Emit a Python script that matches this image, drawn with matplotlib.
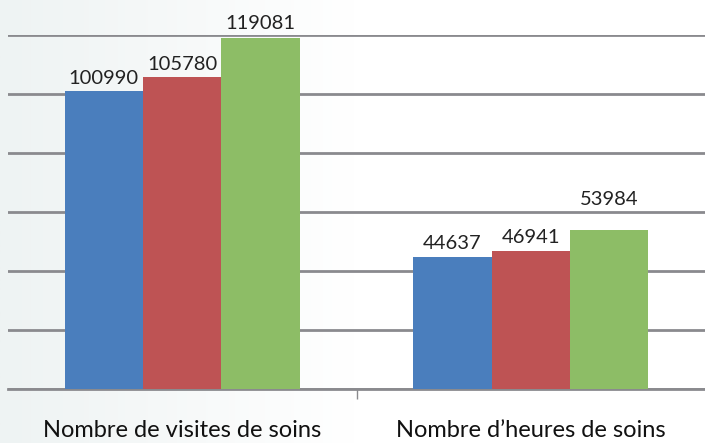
import matplotlib
matplotlib.use("Agg")
from matplotlib import pyplot as plt
from matplotlib.colors import LinearSegmentedColormap
import numpy as np

# Data
categories = ["Nombre de visites de soins", "Nombre d\u2019heures de soins"]
series_a = [100990, 44637]
series_b = [105780, 46941]
series_c = [119081, 53984]

colors = ["#4a7ebd", "#be5354", "#8dbd66"]
label_offsets = [[3, 4], [3, 3], [4, 16]]  # points above each bar

plt.rcParams['font.family'] = ['Lato', 'DejaVu Sans']

fig = plt.figure(figsize=(7.05, 4.43), dpi=100)

# soft background gradient, light at the left edge
bg = fig.add_axes([0, 0, 1, 1], zorder=-10)
grad = np.linspace(0, 1, 256).reshape(1, -1)
cmap = LinearSegmentedColormap.from_list("bg", ["#eef3f3", "#ffffff", "#ffffff"])
bg.imshow(grad, aspect="auto", cmap=cmap, extent=[0, 1, 0, 1])
bg.axis("off")

ax = fig.add_axes([8 / 705, 1 - 389 / 443, 697 / 705, (389 - 35) / 443])
ax.patch.set_alpha(0)

x = np.arange(len(categories))
w = 0.225
all_series = [series_a, series_b, series_c]
for i, (vals, col) in enumerate(zip(all_series, colors)):
    pos = x + (i - 1) * w
    ax.bar(pos, vals, width=w, color=col, zorder=3)
    for k, (p, v) in enumerate(zip(pos, vals)):
        ax.annotate(str(v), (p, v), xytext=(0, label_offsets[i][k]),
                    textcoords="offset points", ha="center", va="bottom",
                    fontsize=14.5, color="#222222")

ax.set_ylim(0, 120000)
ax.set_xlim(-0.5, 1.5)
ax.set_yticks(np.arange(0, 120001, 20000))
ax.yaxis.grid(True, color="#8a8a8e", linewidth=2, zorder=1)
ax.tick_params(axis="y", left=False, labelleft=False)

ax.set_xticks(x)
ax.set_xticklabels(categories, fontsize=17, color="#111111")
ax.tick_params(axis="x", length=0, pad=22)
ax.set_xticks([0.5], minor=True)
ax.tick_params(axis="x", which="minor", length=7, width=1, color="#8a8a8e")

for s in ["top", "right", "left"]:
    ax.spines[s].set_visible(False)
ax.spines["bottom"].set_color("#8a8a8e")
ax.spines["bottom"].set_linewidth(2)

fig.savefig("out.png", dpi=100)
